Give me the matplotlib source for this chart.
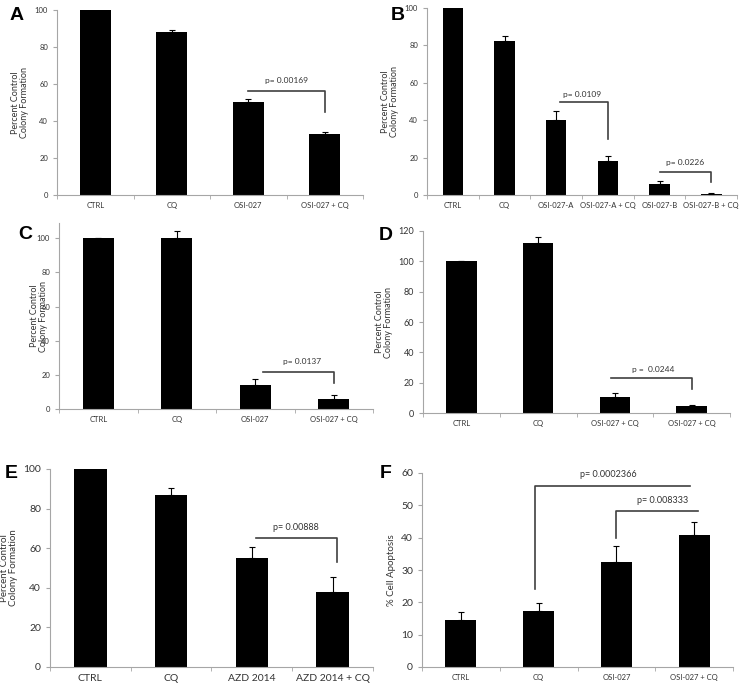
import numpy as np
import matplotlib.pyplot as plt

plt.rcParams['font.family'] = ['Lato', 'DejaVu Sans']

# panel A
cats_a = ['CTRL', 'CQ', 'OSI-027', 'OSI-027 + CQ']
vals_a = [100, 88, 50.5, 33]
errs_a = [0, 1.0, 1.2, 0.8]

# panel B
cats_b = ['CTRL', 'CQ', 'OSI-027-A', 'OSI-027-A + CQ', 'OSI-027-B', 'OSI-027-B + CQ']
vals_b = [100, 82.5, 40, 18, 6, 0.8]
errs_b = [0, 2.5, 5, 3, 1.5, 0.3]

# panel C
cats_c = ['CTRL', 'CQ', 'OSI-027', 'OSI-027 + CQ']
vals_c = [100, 100.5, 14, 6]
errs_c = [0, 4, 3.5, 2]

# panel D
cats_d = ['CTRL', 'CQ', 'OSI-027 + CQ', 'OSI-027 + CQ']
vals_d = [100, 112, 10.5, 4.5]
errs_d = [0, 4, 3, 0.8]

# panel E
cats_e = ['CTRL', 'CQ', 'AZD 2014', 'AZD 2014 + CQ']
vals_e = [100, 87, 55, 38]
errs_e = [0, 3.5, 5.5, 7.5]

# panel F
cats_f = ['CTRL', 'CQ', 'OSI-027', 'OSI-027 + CQ']
vals_f = [14.5, 17.3, 32.5, 40.7]
errs_f = [2.5, 2.5, 4.8, 4.3]

W, H = 750, 692
fig = plt.figure(figsize=(W / 100, H / 100), dpi=100)

grey = '#a6a6a6'
txt = '#333333'


def panel(box, letter, lpos, cats, vals, errs, ymax, ystep, tick_fs, cat_fs, ylabel, lab_fs, labelpad=4):
    l, r, t, b = box
    ax = fig.add_axes([l / W, 1 - b / H, (r - l) / W, (b - t) / H])
    x = np.arange(len(cats))
    ax.bar(x, vals, width=0.4, color='black', zorder=2)
    ax.errorbar(x, vals, yerr=[np.zeros(len(errs)), errs], fmt='none',
                ecolor='black', elinewidth=0.8, capsize=2, capthick=0.8, zorder=3)
    ax.set_xlim(-0.5, len(cats) - 0.5)
    ax.set_ylim(0, ymax)
    ax.set_yticks(np.arange(0, ymax + 0.1, ystep))
    ax.set_xticks(x)
    ax.set_xticklabels(cats, fontsize=cat_fs, color=txt)
    ax.set_xticks(np.arange(-0.5, len(cats)), minor=True)
    ax.tick_params(axis='x', which='major', length=0, pad=5)
    ax.tick_params(axis='x', which='minor', length=3, color=grey, direction='out')
    ax.tick_params(axis='y', length=3, color=grey, labelsize=tick_fs, labelcolor=txt)
    for s in ['top', 'right']:
        ax.spines[s].set_visible(False)
    for s in ['left', 'bottom']:
        ax.spines[s].set_color(grey)
        ax.spines[s].set_linewidth(0.8)
    ax.set_ylabel(ylabel, fontsize=lab_fs, color=txt, labelpad=labelpad, linespacing=1.0)
    fig.text(lpos[0] / W, 1 - lpos[1] / H, letter, fontsize=14, fontweight='bold',
             family=['Liberation Sans', 'DejaVu Sans'], ha='left', va='center')
    return ax


def bracket(ax, x1, x2, y, ly, ry, text, ty, tx, fs):
    xs, ys = [x1, x1, x2, x2], [ly, y, y, ry]
    ax.plot(xs, ys, color='#404040', lw=1.2, zorder=4)
    ax.text(tx, ty, text, fontsize=fs, color=txt, ha='center', va='center')


ylab = 'Percent Control\nColony Formation'

ax = panel((57, 363, 10, 195), 'A', (10, 15), cats_a, vals_a, errs_a, 100, 20, 5.5, 5.5, ylab, 6.5)
bracket(ax, 2, 3, 56.3, 56.3, 44.6, 'p= 0.00169', 62, 2.5, 6)

ax = panel((427, 737, 8, 195), 'B', (391, 15), cats_b, vals_b, errs_b, 100, 20, 5.5, 5.5, ylab, 6.5)
bracket(ax, 2.08, 3, 49.6, 49.6, 30, 'p= 0.0109', 54, 2.5, 6)
bracket(ax, 4, 5, 12.5, 12.5, 7.1, 'p= 0.0226', 17.5, 4.5, 6)

ax = panel((59, 373, 223, 409), 'C', (18, 234), cats_c, vals_c, errs_c, 109, 20, 5.5, 5.5, ylab, 6.5, labelpad=-8)
bracket(ax, 2.1, 3, 21.7, 21.7, 15.4, 'p= 0.0137', 27.6, 2.6, 6)

ax = panel((423, 730, 231, 413), 'D', (379, 235), cats_d, vals_d, errs_d, 120, 20, 6.5, 5.5, ylab, 6.5)
bracket(ax, 1.95, 3, 23, 23, 15.8, 'p =  0.0244', 28.9, 2.5, 6)

ax = panel((50, 373, 469, 667), 'E', (5, 474), cats_e, vals_e, errs_e, 100, 20, 7.5, 7.5, ylab, 7)
bracket(ax, 2.05, 3.05, 65.4, 65.4, 53, 'p= 0.00888', 70.5, 2.55, 6.5)

ax = panel((422, 733, 473, 667), 'F', (380, 474), cats_f, vals_f, errs_f, 60, 10, 7.5, 5.5, '% Cell Apoptosis', 7)
bracket(ax, 0.95, 2.95, 56.1, 24, 56.1, 'p= 0.0002366', 59.5, 1.9, 6.5)
bracket(ax, 2.0, 3.05, 48.1, 39.9, 48.1, 'p= 0.008333', 51.5, 2.6, 6.5)

fig.savefig('out.png', dpi=100)
